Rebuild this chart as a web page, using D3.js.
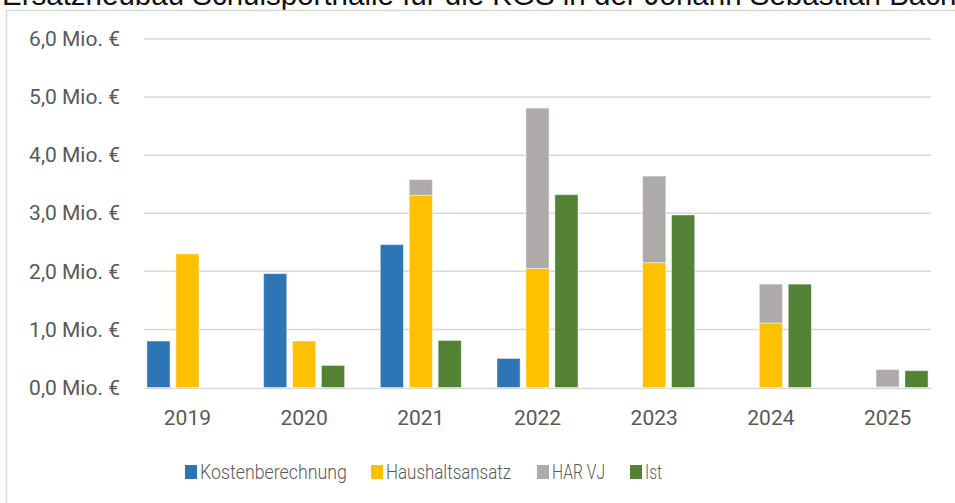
<!DOCTYPE html>
<html>
<head>
<meta charset="utf-8">
<script src="https://cdn.jsdelivr.net/npm/d3@7"></script>
<style>
  body { margin: 0; background: #fff; }
  svg { display: block; }
</style>
</head>
<body>
<div id="chart"></div>
<script>
// data (Mio. €)
var years = ["2019", "2020", "2021", "2022", "2023", "2024", "2025"];
var kostenberechnung = [0.80, 1.96, 2.46, 0.50, 0, 0, 0];
var haushaltsansatz = [2.30, 0.80, 3.31, 2.05, 2.15, 1.11, 0.01];
var harVJ = [0, 0, 0.27, 2.76, 1.49, 0.67, 0.30];
var ist = [0, 0.38, 0.81, 3.32, 2.97, 1.78, 0.29];
var yTicks = [0, 1, 2, 3, 4, 5, 6];
var legendNames = ["Kostenberechnung", "Haushaltsansatz", "HAR VJ", "Ist"];
var colors = ["#2E75B6", "#FFC000", "#AEAAAA", "#548235"];

var svgWidth = 955;
var svgHeight = 503;

var svg = d3.select("#chart")
  .append("svg")
  .attr("width", svgWidth)
  .attr("height", svgHeight);

// title, cut off at the top edge like in the original screenshot
svg.append("text")
  .attr("x", 2)
  .attr("y", 5)
  .attr("font-family", "Liberation Sans, Arial, sans-serif")
  .attr("font-size", "29.5px")
  .attr("fill", "#111")
  .text("Ersatzneubau Schulsporthalle für die KGS in der Johann Sebastian Bach");

// chart frame
svg.append("rect")
  .attr("x", 6.5)
  .attr("y", 10.5)
  .attr("width", 1000)
  .attr("height", 600)
  .attr("fill", "#fff")
  .attr("stroke", "#d9d9d9")
  .attr("stroke-width", 1.5);

var plotLeft = 144, plotRight = 931;

var y = d3.scaleLinear()
  .domain([0, 6])
  .range([387.5, 39]);

var x = d3.scaleBand()
  .domain(years)
  .range([plotLeft, plotRight])
  .paddingInner(0.306)
  .paddingOuter(0.025);

var slot = d3.scaleBand()
  .domain([0, 1, 2])
  .range([0, x.bandwidth()])
  .paddingInner(0.2);

// gridlines
svg.append("g")
  .selectAll("line")
  .data(yTicks.slice(1))
  .enter()
  .append("line")
  .attr("x1", plotLeft)
  .attr("x2", plotRight)
  .attr("y1", d => y(d))
  .attr("y2", d => y(d))
  .attr("stroke", "#d9d9d9")
  .attr("stroke-width", 1.5);

// y axis labels
var leftAxis = d3.axisLeft(y)
  .tickValues(yTicks)
  .tickSize(0)
  .tickPadding(0)
  .tickFormat(d => d3.format(".1f")(d).replace(".", ",") + " Mio. €");

var yAxis = svg.append("g")
  .attr("transform", "translate(120,0)")
  .call(leftAxis);
yAxis.select(".domain").remove();
yAxis.selectAll("text")
  .attr("font-family", "Roboto, sans-serif")
  .attr("font-size", "21px")
  .attr("fill", "#595959");

// bars
function drawBars(values, base, slotIndex, color) {
  var rows = years.map((yr, i) => ({ year: yr, v: values[i], b: base[i] }))
    .filter(d => d.v > 0);
  svg.append("g")
    .selectAll("rect")
    .data(rows)
    .enter()
    .append("rect")
    .attr("x", d => x(d.year) + slot(slotIndex))
    .attr("width", slot.bandwidth())
    .attr("y", d => y(d.b + d.v))
    .attr("height", d => y(d.b) - y(d.b + d.v))
    .attr("fill", color)
    .attr("stroke", "#fff")
    .attr("stroke-opacity", 0.45)
    .attr("stroke-width", 1);
}
var zeros = years.map(() => 0);
drawBars(kostenberechnung, zeros, 0, colors[0]);
drawBars(haushaltsansatz, zeros, 1, colors[1]);
drawBars(harVJ, haushaltsansatz, 1, colors[2]);
drawBars(ist, zeros, 2, colors[3]);

// x axis
var bottomAxis = d3.axisBottom(x).tickSize(0).tickPadding(0);
var xAxis = svg.append("g")
  .attr("transform", "translate(0,388)")
  .call(bottomAxis);
xAxis.select(".domain")
  .attr("stroke", "#d9d9d9")
  .attr("stroke-width", 1.5);
xAxis.selectAll("text")
  .attr("y", 37)
  .attr("dy", null)
  .attr("font-family", "Roboto, sans-serif")
  .attr("font-size", "21px")
  .attr("fill", "#595959");

// legend
var legendX = [185, 371, 537, 630];
var legendW = [147, 125, 53, 17];
var legend = svg.append("g")
  .selectAll("g")
  .data(legendNames)
  .enter()
  .append("g")
  .attr("transform", (d, i) => `translate(${legendX[i]},465)`);

legend.append("rect")
  .attr("width", 12)
  .attr("height", 14)
  .attr("fill", (d, i) => colors[i]);

legend.append("text")
  .attr("x", 15)
  .attr("y", 14)
  .attr("font-family", "Roboto, sans-serif")
  .attr("font-weight", 300)
  .attr("font-size", "20px")
  .attr("fill", "#595959")
  .attr("textLength", (d, i) => legendW[i])
  .attr("lengthAdjust", "spacingAndGlyphs")
  .text(d => d);
</script>
</body>
</html>
